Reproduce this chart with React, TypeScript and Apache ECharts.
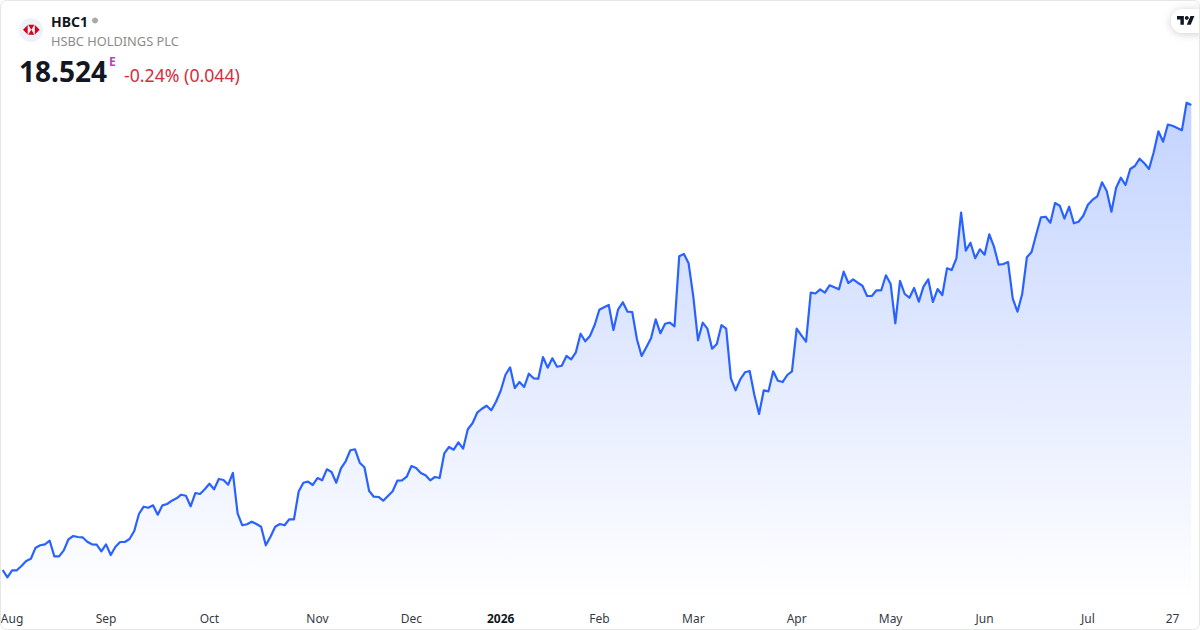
import React, { useEffect, useRef } from "react";
import * as echarts from "echarts";

const tickIndices = [2, 22, 44, 67, 87, 106, 127, 147, 169, 189, 209, 231, 249];
const tickLabels = ["Aug", "Sep", "Oct", "Nov", "Dec", "2026", "Feb", "Mar", "Apr", "May", "Jun", "Jul", "27"];
const priceSeries = [
  10.774, 10.652, 10.769, 10.769, 10.841, 10.924, 10.962, 11.146, 11.186, 11.202,
  11.262, 11.002, 11.002, 11.102, 11.286, 11.341, 11.324, 11.319, 11.246, 11.202,
  11.196, 11.086, 11.202, 11.024, 11.162, 11.241, 11.241, 11.291, 11.424, 11.707,
  11.829, 11.812, 11.852, 11.696, 11.852, 11.874, 11.929, 11.969, 12.029, 12.012,
  11.836, 12.057, 12.041, 12.119, 12.212, 12.119, 12.291, 12.274, 12.196, 12.391,
  11.719, 11.519, 11.536, 11.579, 11.541, 11.496, 11.186, 11.329, 11.496, 11.541,
  11.519, 11.619, 11.619, 12.082, 12.229, 12.246, 12.191, 12.307, 12.269, 12.452,
  12.407, 12.229, 12.469, 12.586, 12.769, 12.786, 12.562, 12.486, 12.091, 11.996,
  11.991, 11.929, 12.007, 12.086, 12.262, 12.269, 12.329, 12.507, 12.474, 12.391,
  12.352, 12.269, 12.324, 12.307, 12.719, 12.824, 12.779, 12.902, 12.796, 13.119,
  13.219, 13.396, 13.462, 13.512, 13.436, 13.579, 13.762, 14.024, 14.152, 13.807,
  13.907, 13.824, 14.046, 13.969, 13.962, 14.324, 14.146, 14.302, 14.162, 14.179,
  14.341, 14.286, 14.402, 14.712, 14.586, 14.674, 14.857, 15.112, 15.152, 15.191,
  14.774, 15.119, 15.236, 15.079, 15.074, 14.619, 14.341, 14.486, 14.636, 14.952,
  14.719, 14.879, 14.896, 14.836, 16.002, 16.041, 15.886, 15.329, 14.602, 14.896,
  14.796, 14.462, 14.541, 14.857, 14.796, 13.969, 13.769, 13.952, 14.069, 14.091,
  13.691, 13.374, 13.769, 13.752, 14.086, 13.929, 13.907, 14.024, 14.086, 14.796,
  14.686, 14.579, 15.396, 15.382, 15.452, 15.396, 15.519, 15.486, 15.452, 15.746,
  15.557, 15.619, 15.562, 15.512, 15.341, 15.341, 15.436, 15.436, 15.686, 15.541,
  14.886, 15.591, 15.374, 15.312, 15.474, 15.246, 15.496, 15.619, 15.241, 15.457,
  15.357, 15.802, 15.774, 15.969, 16.729, 16.096, 16.229, 15.969, 16.119, 16.029,
  16.369, 16.162, 15.862, 15.874, 15.907, 15.296, 15.079, 15.374, 15.986, 16.074,
  16.369, 16.652, 16.662, 16.562, 16.891, 16.846, 16.629, 16.829, 16.552, 16.579,
  16.679, 16.862, 16.946, 17.002, 17.236, 17.091, 16.746, 17.146, 17.312, 17.191,
  17.457, 17.507, 17.629, 17.552, 17.457, 17.736, 18.086, 17.912, 18.196, 18.179,
  18.141, 18.102, 18.562, 18.524,
];

const FONT = '"Noto Sans", sans-serif';
const categories = priceSeries.map((_, i) => String(i));

echarts.graphic.registerShape("tvBars", echarts.graphic.extendPath("M14 22H7V11H0V4h14v18zM28 22h-8l7.5-18h8L28 22z", {}));

export default function App() {
  const ref = useRef<HTMLDivElement>(null);
  useEffect(() => {
    const chart = echarts.init(ref.current!, null, { renderer: "svg" });
    chart.setOption({
      animation: false,
      backgroundColor: "#ffffff",
      grid: { left: 2.7, right: 8.7, top: 90, bottom: 30, containLabel: false, outerBoundsMode: "none" },
      xAxis: {
        type: "category",
        data: categories,
        boundaryGap: false,
        axisLine: { show: false },
        axisTick: { show: false },
        splitLine: { show: false },
        axisLabel: {
          interval: (i: number) => tickIndices.includes(i),
          hideOverlap: false,
          margin: 12,
          color: "#363a45",
          fontFamily: FONT,
          fontSize: 12,
          formatter: (_: string, i: number) => {
            const t = tickLabels[tickIndices.indexOf(i)] ?? "";
            return t === "2026" ? `{b|${t}}` : t;
          },
          rich: { b: { fontWeight: 700, fontSize: 12, color: "#131722", fontFamily: FONT } },
        },
      },
      yAxis: { type: "value", show: false, min: 10.274, max: 18.774, splitLine: { show: false } },
      series: [
        {
          type: "line",
          data: priceSeries,
          showSymbol: false,
          symbol: "none",
          lineStyle: { color: "#2962ff", width: 2.2, join: "round" },
          areaStyle: {
            opacity: 1,
            color: new echarts.graphic.LinearGradient(0, 0, 0, 1, [
              { offset: 0, color: "rgba(41,98,255,0.28)" },
              { offset: 1, color: "rgba(41,98,255,0)" },
            ]),
          },
        },
      ],
      graphic: [
        { type: "rect", z: 100, shape: { x: 0.5, y: 0.5, width: 1199, height: 629, r: 6 }, style: { fill: "none", stroke: "#e6e6e6", lineWidth: 1 } },
        { type: "circle", shape: { cx: 31, cy: 30, r: 12 }, style: { fill: "#eef1f9" } },
        { type: "polygon", shape: { points: [[23, 29.8], [27.7, 25], [27.7, 34.6]] }, style: { fill: "#db0011" } },
        { type: "polygon", shape: { points: [[39.6, 29.8], [34.9, 25], [34.9, 34.6]] }, style: { fill: "#db0011" } },
        { type: "polygon", shape: { points: [[28.2, 24.8], [34.4, 24.8], [31.3, 29.8]] }, style: { fill: "#db0011" } },
        { type: "polygon", shape: { points: [[28.2, 34.8], [34.4, 34.8], [31.3, 29.8]] }, style: { fill: "#db0011" } },
        { type: "text", x: 51, y: 21, style: { text: "HBC1", font: `700 14px ${FONT}`, fill: "#131722", textVerticalAlign: "middle" } },
        { type: "circle", shape: { cx: 95, cy: 20.5, r: 3 }, style: { fill: "#a8a8a8" } },
        { type: "text", x: 51, y: 41, style: { text: "HSBC HOLDINGS PLC", font: `400 12.8px ${FONT}`, fill: "#8c8c8c", textVerticalAlign: "middle" } },
        { type: "text", x: 19, y: 71, style: { text: "18.524", font: `700 28px ${FONT}`, fill: "#131722", textVerticalAlign: "middle" } },
        { type: "text", x: 109, y: 61, style: { text: "E", font: `700 12px ${FONT}`, fill: "#ab47bc", textVerticalAlign: "middle" } },
        { type: "text", x: 124, y: 75, style: { text: "-0.24% (0.044)", font: `400 17.7px ${FONT}`, fill: "#d32f3c", textVerticalAlign: "middle" } },
        { type: "rect", shape: { x: 1171, y: 9, width: 40, height: 24, r: 12 }, style: { fill: "#ffffff", shadowBlur: 8, shadowColor: "rgba(0,0,0,0.2)", shadowOffsetY: 1 } },
        { type: "tvBars", x: 1177, y: 14, scaleX: 0.49, scaleY: 0.49, style: { fill: "#131722" } },
        { type: "circle", shape: { cx: 1186.8, cy: 17.9, r: 1.96 }, style: { fill: "#131722" } },
      ],
    });
    return () => chart.dispose();
  }, []);
  return <div ref={ref} style={{ position: "fixed", left: 0, top: 0, width: 1200, height: 630 }} />;
}
